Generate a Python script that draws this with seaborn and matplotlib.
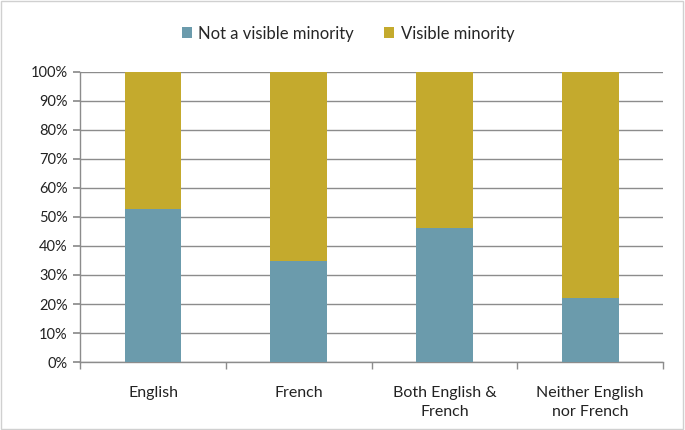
import matplotlib
matplotlib.use("Agg")
import matplotlib.pyplot as plt
import seaborn as sns
import pandas as pd
from matplotlib.patches import Patch, Rectangle
from matplotlib.ticker import PercentFormatter, FixedLocator

categories = ["English", "French", "Both English &\nFrench", "Neither English\nnor French"]
not_visible = [52.7, 34.8, 46.3, 22.2]
visible = [47.3, 65.2, 53.7, 77.8]
series_names = ["Not a visible minority", "Visible minority"]
colors = ["#6b9bac", "#c4aa2d"]

sns.set_theme(style="white")
plt.rcParams["font.family"] = ["Lato", "DejaVu Sans"]

df = pd.DataFrame({"cat": categories, "low": not_visible,
                   "total": [a + b for a, b in zip(not_visible, visible)]})

fig = plt.figure(figsize=(6.85, 4.30), dpi=100)
ax = fig.add_axes([0.117, 0.158, 0.851, 0.675])

ax.yaxis.grid(True, color="#8c8c8c", linewidth=1)
ax.set_axisbelow(True)

sns.barplot(data=df, x="cat", y="total", color=colors[1], width=0.39,
            saturation=1, linewidth=0, ax=ax, zorder=2)
sns.barplot(data=df, x="cat", y="low", color=colors[0], width=0.39,
            saturation=1, linewidth=0, ax=ax, zorder=3)

ax.set_xlim(-0.5, 3.5)
ax.set_ylim(0, 100)
ax.set_yticks(range(0, 101, 10))
ax.yaxis.set_major_formatter(PercentFormatter(decimals=0))
ax.set_xlabel("")
ax.set_ylabel("")

for s in ["top", "right"]:
    ax.spines[s].set_visible(False)
for s in ["left", "bottom"]:
    ax.spines[s].set_color("#8c8c8c")
    ax.spines[s].set_linewidth(1)

ax.tick_params(axis="y", which="major", left=True, length=5, color="#8c8c8c",
               labelsize=10.5, labelcolor="#222222", pad=4)
ax.tick_params(axis="x", which="major", bottom=False, labelsize=11.5,
               labelcolor="#222222", pad=11)
for lbl in ax.get_xticklabels():
    lbl.set_linespacing(1.5)
ax.xaxis.set_minor_locator(FixedLocator([-0.5, 0.5, 1.5, 2.5, 3.5]))
ax.tick_params(axis="x", which="minor", bottom=True, length=5, color="#8c8c8c")

handles = [Patch(facecolor=c, edgecolor="none") for c in colors]
fig.legend(handles, series_names, loc="center", bbox_to_anchor=(0.508, 0.922),
           ncol=2, frameon=False, fontsize=12, handlelength=0.6, handleheight=0.6,
           handletextpad=0.4, columnspacing=1.8)

fig.patches.append(Rectangle((0.002, 0.003), 0.995, 0.994, transform=fig.transFigure,
                             fill=False, edgecolor="#d0d0d0", linewidth=1))

fig.savefig("out.png", dpi=100)
